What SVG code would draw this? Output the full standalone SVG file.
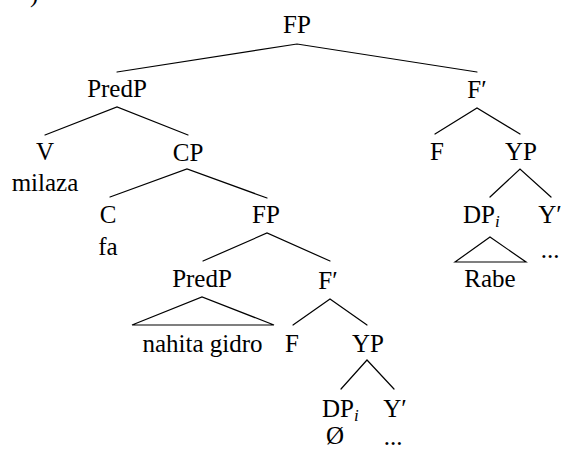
<svg xmlns="http://www.w3.org/2000/svg" width="562" height="449" viewBox="0 0 562 449">
<style>
.t{font-family:"Liberation Serif","Tinos","Times New Roman",Times,"DejaVu Serif",serif;font-size:25px;fill:#000;text-anchor:middle}
.s{text-anchor:start}
.l{stroke:#000;stroke-width:1.2;fill:none;stroke-linecap:round}
.sub{font-style:italic;font-size:17px}
</style>
<rect width="562" height="449" fill="#fff"/>
<g class="t">
<text x="30" y="2" class="s">)</text>
</g>
<g id="connectors">
<polyline class="l" points="117,72 297,44 477,72"/>
<polyline class="l" points="45,135 117,107 188,135"/>
<polyline class="l" points="435,134 477,108 520,134"/>
<polyline class="l" points="110,197 187,169 267,198"/>
<polyline class="l" points="490,197 520,169 551,197"/>
<polyline class="l" points="203,261 267,233 330,261"/>
<polyline class="l" points="293,325 330,299 367,325"/>
<polyline class="l" points="341,389 367,360 394,389"/>
<polygon class="l" points="455,262 490,237 526,262"/>
<polygon class="l" points="132,325 202,297 274,325"/>
</g>
<g class="t">
<g id="n-FP"><text x="297" y="33">FP</text></g>
<g id="n-PredP"><text x="117" y="97">PredP</text></g>
<g id="n-Fbar"><text x="477" y="98">F′</text></g>
<g id="n-V"><text x="45" y="160">V</text><text x="45" y="191">milaza</text></g>
<g id="n-CP"><text x="188" y="161">CP</text></g>
<g id="n-F1"><text x="437" y="160">F</text></g>
<g id="n-YP1"><text x="521" y="160">YP</text></g>
<g id="n-C"><text x="108" y="223">C</text><text x="108" y="255">fa</text></g>
<g id="n-FP2"><text x="266" y="223">FP</text></g>
<g id="n-DP1"><text x="463" y="223" class="s">DP<tspan class="sub" dy="4">i</tspan></text><text x="490" y="287">Rabe</text></g>
<g id="n-Ybar1"><text x="550" y="223">Y′</text><text x="550" y="258">...</text></g>
<g id="n-PredP2"><text x="202" y="287">PredP</text><text x="202.5" y="352">nahita gidro</text></g>
<g id="n-Fbar2"><text x="328" y="289">F′</text></g>
<g id="n-F2"><text x="292" y="352">F</text></g>
<g id="n-YP2"><text x="368" y="352">YP</text></g>
<g id="n-DP2"><text x="322" y="417" class="s">DP<tspan class="sub" dy="4">i</tspan></text><text x="335" y="444">Ø</text></g>
<g id="n-Ybar2"><text x="395" y="417">Y′</text><text x="393" y="445">...</text></g>
</g>
</svg>
